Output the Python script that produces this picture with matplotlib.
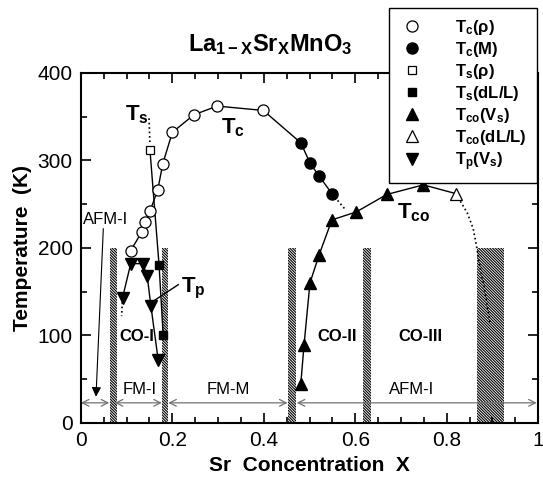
import matplotlib
matplotlib.use('Agg')
import matplotlib.pyplot as plt
import numpy as np

plt.rcParams['font.family'] = ['Liberation Sans', 'DejaVu Sans']
plt.rcParams['mathtext.fontset'] = 'custom'
plt.rcParams['mathtext.rm'] = 'Liberation Sans:bold'
plt.rcParams['mathtext.it'] = 'Liberation Sans:bold'
plt.rcParams['mathtext.bf'] = 'Liberation Sans:bold'
plt.rcParams['mathtext.default'] = 'rm'
plt.rcParams['hatch.linewidth'] = 0.8

# Tc from resistivity (open circles)
tc_rho_x = [0.109, 0.133, 0.141, 0.151, 0.168, 0.179, 0.20, 0.247, 0.298, 0.399]
tc_rho_t = [197, 218, 230, 242, 266, 296, 332, 352, 362, 357]
# Tc from magnetization (filled circles)
tc_m_x = [0.481, 0.501, 0.521, 0.549]
tc_m_t = [320, 297, 282, 262]
# Ts from resistivity (open square) and dL/L (filled squares)
ts_rho_x = [0.151]
ts_rho_t = [312]
ts_dl_x = [0.171, 0.180]
ts_dl_t = [180, 100]
# Tco from sound velocity (filled up triangles) and dL/L (open up triangle)
tco_vs_x = [0.481, 0.488, 0.501, 0.521, 0.549, 0.602, 0.669, 0.749]
tco_vs_t = [45, 89, 160, 192, 232, 241, 261, 272]
tco_dl_x = [0.820]
tco_dl_t = [262]
# Tp from sound velocity (filled down triangles)
tp_x = [0.091, 0.109, 0.135, 0.145, 0.153, 0.169]
tp_t = [143, 182, 182, 168, 134, 72]

# hatched phase boundaries (x ranges, up to 200 K)
hatch_lo = [0.064, 0.177, 0.452, 0.617, 0.866]
hatch_hi = [0.078, 0.191, 0.471, 0.634, 0.926]
hatch_top = 200

# horizontal ranges at low temperature
arrow_lo = [0.0, 0.074, 0.191, 0.472]
arrow_hi = [0.062, 0.177, 0.452, 0.997]
arrow_t = 23
arrow_names = ['', 'FM-I', 'FM-M', 'AFM-I']
arrow_name_x = [0, 0.129, 0.322, 0.724]

fig = plt.figure(figsize=(5.43, 4.79), dpi=100)
ax = fig.add_axes([0.149, 0.117, 0.842, 0.731])

for lo, hi in zip(hatch_lo, hatch_hi):
    ax.bar(lo, hatch_top, width=hi - lo, align='edge', color='white',
           edgecolor='black', hatch='\\' * 12, linewidth=0, zorder=1)

for lo, hi in zip(arrow_lo, arrow_hi):
    ax.annotate('', xy=(lo, arrow_t), xytext=(hi, arrow_t),
                arrowprops=dict(arrowstyle='<->', color='0.45', lw=0.9,
                                shrinkA=0, shrinkB=0, mutation_scale=12), zorder=2)
for name, xn in zip(arrow_names, arrow_name_x):
    if name:
        ax.text(xn, 38, name, ha='center', va='center', fontsize=12)

# Tc curve
tc_x = tc_rho_x + tc_m_x
tc_t = tc_rho_t + tc_m_t
ax.plot(tc_x, tc_t, '-', color='black', lw=1, zorder=3)
ax.plot([0.549, 0.578], [262, 244], ':', color='black', lw=1.2, zorder=3)
# Ts curve
ax.plot([0.149, 0.151], [348, 318], ':', color='black', lw=1.2, zorder=3)
ax.plot(ts_rho_x + ts_dl_x, ts_rho_t + ts_dl_t, '-', color='black', lw=1, zorder=3)
# Tco curve
ax.plot(tco_vs_x + tco_dl_x, tco_vs_t + tco_dl_t, '-', color='black', lw=1, zorder=3)
ax.plot([0.82, 0.845, 0.858, 0.866, 0.873, 0.882, 0.890, 0.895],
        [262, 240, 222, 200, 178, 155, 130, 114], ':', color='black', lw=1.2, zorder=3)
# Tp curve
ax.plot(tp_x, tp_t, '-', color='black', lw=1, zorder=3)
ax.plot([0.091, 0.089], [143, 122], ':', color='black', lw=1.2, zorder=3)

ms = 8
ax.plot(tc_rho_x, tc_rho_t, 'o', ms=ms, mfc='white', mec='black', mew=0.9, ls='none',
        zorder=4, label=r'T$_{c}$(ρ)')
ax.plot(tc_m_x, tc_m_t, 'o', ms=ms, mfc='black', mec='black', ls='none',
        zorder=4, label=r'T$_{c}$(M)')
ax.plot(ts_rho_x, ts_rho_t, 's', ms=6, mfc='white', mec='black', mew=0.9, ls='none',
        zorder=4, label=r'T$_{s}$(ρ)')
ax.plot(ts_dl_x, ts_dl_t, 's', ms=6, mfc='black', mec='black', ls='none',
        zorder=4, label=r'T$_{s}$(dL/L)')
ax.plot(tco_vs_x, tco_vs_t, '^', ms=ms + 0.5, mfc='black', mec='black', ls='none',
        zorder=4, label=r'T$_{co}$(V$_{s}$)')
ax.plot(tco_dl_x, tco_dl_t, '^', ms=ms + 0.5, mfc='white', mec='black', mew=0.9, ls='none',
        zorder=4, label=r'T$_{co}$(dL/L)')
ax.plot(tp_x, tp_t, 'v', ms=ms + 0.5, mfc='black', mec='black', ls='none',
        zorder=4, label=r'T$_{p}$(V$_{s}$)')

# labels in the plot
ax.text(0.122, 352, r'T$_{s}$', fontsize=16, fontweight='bold', ha='center', va='center')
ax.text(0.333, 337, r'T$_{c}$', fontsize=16, fontweight='bold', ha='center', va='center')
ax.text(0.727, 240, r'T$_{co}$', fontsize=16, fontweight='bold', ha='center', va='center')
ax.text(0.246, 154, r'T$_{p}$', fontsize=16, fontweight='bold', ha='center', va='center')
ax.plot([0.213, 0.158], [158, 139], '-', color='black', lw=1, zorder=3)
ax.text(0.122, 99, 'CO-I', fontsize=12, fontweight='bold', ha='center', va='center')
ax.text(0.560, 99, 'CO-II', fontsize=12, fontweight='bold', ha='center', va='center')
ax.text(0.742, 99, 'CO-III', fontsize=12, fontweight='bold', ha='center', va='center')
ax.text(0.055, 232, 'AFM-I', fontsize=12, ha='center', va='center')
ax.annotate('', xy=(0.033, 30), xytext=(0.049, 222),
            arrowprops=dict(arrowstyle='-|>', color='black', lw=0.8,
                            shrinkA=0, shrinkB=0, mutation_scale=14, fc='black'))

ax.set_xlim(0, 1)
ax.set_ylim(0, 400)
ax.set_xticks([0, 0.2, 0.4, 0.6, 0.8, 1.0])
ax.set_xticklabels(['0', '0.2', '0.4', '0.6', '0.8', '1'])
ax.set_xticks(np.arange(0, 1.0001, 0.05), minor=True)
ax.set_yticks([0, 100, 200, 300, 400])
ax.set_yticks(np.arange(0, 401, 50), minor=True)
ax.tick_params(which='both', direction='in', top=True, right=True, width=1.2,
               labelsize=15, pad=6)
ax.tick_params(which='major', length=7)
ax.tick_params(which='minor', length=4)
for s in ax.spines.values():
    s.set_linewidth(1.5)

ax.set_xlabel('Sr  Concentration  X', fontsize=15, fontweight='bold', labelpad=4)
ax.set_ylabel('Temperature  (K)', fontsize=15, fontweight='bold', labelpad=4)
fig.text(0.497, 0.906, r'La$_{1-X}$Sr$_{X}$MnO$_{3}$', fontsize=17,
         fontweight='bold', ha='center', va='center')

leg = ax.legend(loc='upper right', bbox_to_anchor=(0.989, 0.983),
                bbox_transform=fig.transFigure, frameon=True, fancybox=False,
                edgecolor='black', framealpha=1, prop={'size': 12, 'weight': 'bold'},
                handlelength=1.6, handletextpad=1.8, labelspacing=0.18,
                borderpad=0.6, borderaxespad=0)
leg.get_frame().set_linewidth(1.0)
leg.set_zorder(10)

fig.savefig('out.png', dpi=100)
